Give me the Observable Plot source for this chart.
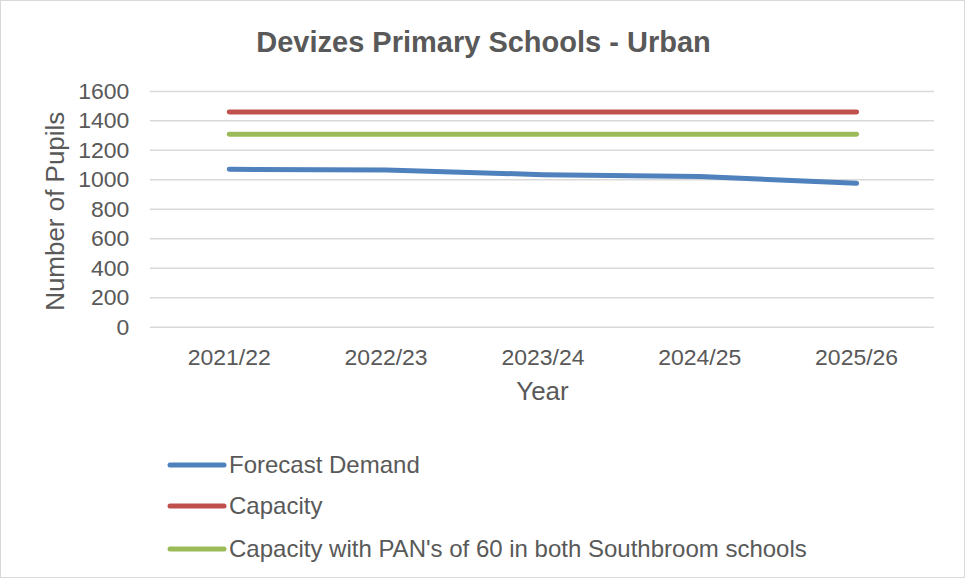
<!DOCTYPE html>
<html>
<head>
<meta charset="utf-8">
<script src="https://cdn.jsdelivr.net/npm/d3@7"></script>
<script src="https://cdn.jsdelivr.net/npm/@observablehq/plot@0.6"></script>
<style>
  html, body { margin: 0; padding: 0; background: #fff; }
  #wrap { position: relative; width: 965px; height: 578px; box-sizing: border-box; border: 1px solid #d9d9d9; font-family: "Liberation Sans", Arial, sans-serif; overflow: hidden; }
  #title { position: absolute; left: 0; width: 965px; top: 23px; text-align: center; font-weight: bold; font-size: 29px; color: #595959; line-height: 36px; }
  #chart { position: absolute; left: -1px; top: -1px; }
  .leg { position: absolute; left: 166px; height: 30px; display: flex; align-items: center; font-size: 24px; color: #595959; white-space: nowrap; }
  .leg svg { margin-right: 2px; }
</style>
</head>
<body>
<div id="wrap">
  <div id="chart"></div>
  <div id="title">Devizes Primary Schools - Urban</div>
  <div id="legend"></div>
</div>
<script>
const years = ["2021/22", "2022/23", "2023/24", "2024/25", "2025/26"];
const forecastDemand = [1071, 1067, 1035, 1022, 976];
const capacity = [1460, 1460, 1460, 1460, 1460];
const capacityPAN = [1310, 1310, 1310, 1310, 1310];
const seriesNames = ["Forecast Demand", "Capacity", "Capacity with PAN's of 60 in both Southbroom schools"];
const seriesColors = ["#4f81bd", "#c0504d", "#9bbb59"];
const yTicks = [0, 200, 400, 600, 800, 1000, 1200, 1400, 1600];

const seriesValues = [forecastDemand, capacity, capacityPAN];
const data = [];
seriesNames.forEach((s, i) => years.forEach((y, j) => data.push({series: s, year: y, value: seriesValues[i][j]})));

const font = "'Liberation Sans', Arial, sans-serif";
const plot = Plot.plot({
  width: 965,
  height: 420,
  marginTop: 91,
  marginBottom: 93,
  marginLeft: 150,
  marginRight: 30,
  style: { fontFamily: font, color: "#595959", background: "transparent", overflow: "visible" },
  x: { type: "point", domain: years, padding: 0.5 },
  y: { domain: [0, 1600] },
  color: { domain: seriesNames, range: seriesColors },
  marks: [
    Plot.gridY(yTicks, { stroke: "#d9d9d9", strokeOpacity: 1, strokeWidth: 1.5 }),
    Plot.axisY(yTicks, { tickSize: 0, tickPadding: 21, fontSize: 23, label: null, fill: "#595959", tickFormat: d => String(d) }),
    Plot.axisX({ tickSize: 0, tickPadding: 22, fontSize: 23, label: null, fill: "#595959" }),
    Plot.line(data, { x: "year", y: "value", z: "series", stroke: "series", strokeWidth: 5, strokeLinecap: "round", strokeLinejoin: "round" }),
    Plot.text(["Year"], { frameAnchor: "bottom", lineAnchor: "middle", dy: 65, fontSize: 26, fill: "#595959" }),
    Plot.text(["Number of Pupils"], { frameAnchor: "left", textAnchor: "middle", lineAnchor: "middle", dx: -95, dy: 2, rotate: -90, fontSize: 26, fill: "#595959" })
  ]
});
document.getElementById("chart").appendChild(plot);

const legendTops = [449, 490, 533];
const legend = document.getElementById("legend");
seriesNames.forEach((name, i) => {
  const row = document.createElement("div");
  row.className = "leg";
  row.style.top = legendTops[i] + "px";
  row.innerHTML = `<svg width="60" height="10"><line x1="3" y1="5" x2="57" y2="5" stroke="${seriesColors[i]}" stroke-width="5" stroke-linecap="round"/></svg><span>${name}</span>`;
  legend.appendChild(row);
});
</script>
</body>
</html>
